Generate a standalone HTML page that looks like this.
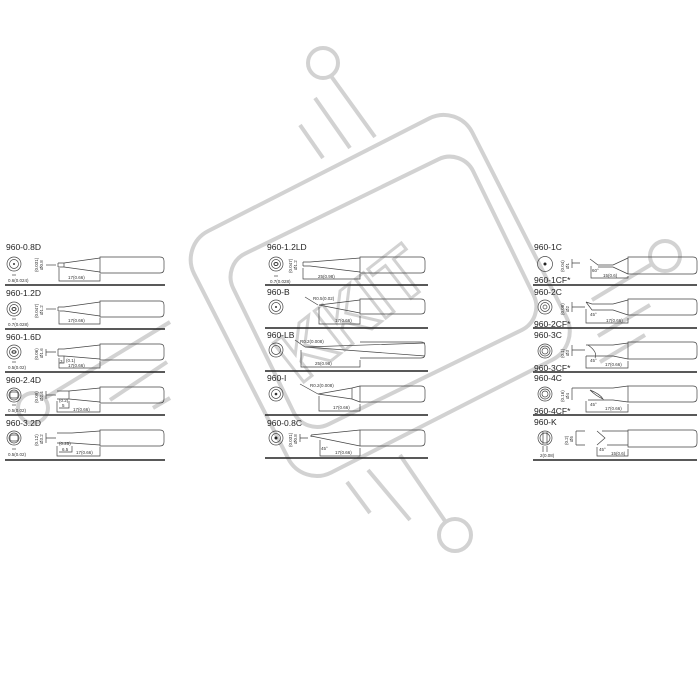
<!DOCTYPE html>
<html><head><meta charset="utf-8"><style>
html,body{margin:0;padding:0;background:#fff;}
svg{display:block;font-family:"Liberation Sans",sans-serif;}
.l{font-size:8.5px;fill:#222}
.s{font-size:4.5px;fill:#333}
.d{fill:none;stroke:#444;stroke-width:0.7}
.sep{stroke:#222;stroke-width:1.6}
.w{fill:none;stroke:#d2d2d2;stroke-width:4}
</style></head><body>
<svg width="700" height="700" viewBox="0 0 700 700">
<defs>
<path id="hL" d="M0 -8 H60 Q64 -8 64 -4 V4 Q64 8 60 8 H0 Z" class="d"/>
</defs>
<!-- watermark -->
<g>
<rect class="w" x="-156" y="-135" width="312" height="271" rx="32" transform="translate(380,295) rotate(-27)"/>
<rect class="w" x="-133" y="-95" width="267" height="190" rx="26" transform="translate(383,292) rotate(-26)"/>
<circle class="w" cx="323" cy="63" r="15"/>
<line class="w" x1="331" y1="76" x2="375" y2="137"/>
<line class="w" x1="315" y1="98" x2="350" y2="148"/>
<line class="w" x1="300" y1="125" x2="323" y2="158"/>
<circle class="w" cx="455" cy="535" r="16"/>
<line class="w" x1="400" y1="455" x2="445" y2="521"/>
<line class="w" x1="368" y1="470" x2="410" y2="520"/>
<line class="w" x1="347" y1="482" x2="370" y2="513"/>
<circle class="w" cx="33" cy="408" r="15"/>
<line class="w" x1="45" y1="398" x2="170" y2="322"/>
<line class="w" x1="110" y1="400" x2="167" y2="362"/>
<line class="w" x1="153" y1="408" x2="170" y2="398"/>
<circle class="w" cx="665" cy="256" r="15"/>
<line class="w" x1="652" y1="264" x2="592" y2="300"/>
<line class="w" x1="650" y1="305" x2="598" y2="336"/>
<line class="w" x1="645" y1="335" x2="600" y2="362"/>
<text x="0" y="0" font-size="72" font-weight="bold" fill="none" stroke="#d2d2d2" stroke-width="3" transform="translate(300,385) rotate(-38)">KKIT</text>
</g>

<!-- separators -->
<g class="sep">
<line x1="5" y1="285" x2="165" y2="285"/><line x1="5" y1="329" x2="165" y2="329"/><line x1="5" y1="372" x2="165" y2="372"/><line x1="5" y1="415" x2="165" y2="415"/><line x1="5" y1="460" x2="165" y2="460"/>
<line x1="265" y1="285" x2="428" y2="285"/><line x1="265" y1="328" x2="428" y2="328"/><line x1="265" y1="371" x2="428" y2="371"/><line x1="265" y1="415" x2="428" y2="415"/><line x1="265" y1="458" x2="428" y2="458"/>
<line x1="533" y1="285" x2="697" y2="285"/><line x1="533" y1="328" x2="697" y2="328"/><line x1="533" y1="372" x2="697" y2="372"/><line x1="533" y1="415" x2="697" y2="415"/><line x1="533" y1="460" x2="697" y2="460"/>
</g>

<!-- LEFT column -->
<g>
<text class="l" x="6" y="250">960-0.8D</text>
<circle class="d" cx="14" cy="264" r="7"/><circle class="d" cx="14" cy="264" r="4.5"/><circle cx="14" cy="264" r="1" fill="#333"/>
<text class="s" x="8" y="282">0.6(0.024)</text><line class="d" x1="12" y1="275" x2="16" y2="275"/>
<text class="s" transform="translate(38,272) rotate(-90)">(0.031)</text><text class="s" transform="translate(43,270) rotate(-90)">Ø0.8</text>
<line class="d" x1="46" y1="265" x2="56" y2="265"/>
<path class="d" d="M58 263 H64 L100 258 M58 267 H64 L100 272 M58 263 V267 M64 263 V267"/>
<use href="#hL" x="100" y="265"/>
<path class="d" d="M59 268 V281 H100 V274"/><text class="s" x="68" y="279">17(0.66)</text>

<text class="l" x="6" y="296">960-1.2D</text>
<circle class="d" cx="14" cy="309" r="7"/><circle class="d" cx="14" cy="309" r="4.5"/><ellipse cx="14" cy="309" rx="2" ry="1.5" fill="none" stroke="#333"/>
<text class="s" x="8" y="326">0.7(0.028)</text><line class="d" x1="12" y1="319" x2="16" y2="319"/>
<text class="s" transform="translate(38,318) rotate(-90)">(0.047)</text><text class="s" transform="translate(43,315) rotate(-90)">Ø1.2</text>
<line class="d" x1="46" y1="309" x2="56" y2="309"/>
<path class="d" d="M58 307 H64 L100 302 M58 311 H64 L100 316 M58 307 V311"/>
<use href="#hL" x="100" y="309"/>
<path class="d" d="M59 312 V324 H100 V318"/><text class="s" x="68" y="322">17(0.66)</text>

<text class="l" x="6" y="340">960-1.6D</text>
<circle class="d" cx="14" cy="352" r="7"/><circle class="d" cx="14" cy="352" r="4.5"/><ellipse cx="14" cy="352" rx="2" ry="1.2" fill="none" stroke="#333"/>
<text class="s" x="8" y="369">0.5(0.02)</text><line class="d" x1="12" y1="362" x2="16" y2="362"/>
<text class="s" transform="translate(38,360) rotate(-90)">(0.06)</text><text class="s" transform="translate(43,358) rotate(-90)">Ø1.6</text>
<path class="d" d="M46 349 V356 M46 352 H56"/>
<path class="d" d="M58 349 H64 L100 345 M58 356 H64 L100 359 M58 349 V356"/>
<use href="#hL" x="100" y="352"/>
<path class="d" d="M59 358 V368 H100 V361 M64 356 V363 H59"/><text class="s" x="66" y="362">(0.1)</text><text class="s" x="60" y="363">3</text><text class="s" x="68" y="367">17(0.66)</text>

<text class="l" x="6" y="383">960-2.4D</text>
<circle class="d" cx="14" cy="395" r="7"/><circle class="d" cx="14" cy="395" r="5"/><rect class="d" x="10" y="392" width="8" height="6" rx="2"/>
<text class="s" x="8" y="412">0.5(0.02)</text><line class="d" x1="12" y1="405" x2="16" y2="405"/>
<text class="s" transform="translate(38,403) rotate(-90)">(0.09)</text><text class="s" transform="translate(43,401) rotate(-90)">Ø2.4</text>
<path class="d" d="M46 391 V399 M46 395 H56"/>
<path class="d" d="M57 391 H69 L100 388 M57 399 H69 L100 402 M69 391 V399"/>
<use href="#hL" x="100" y="395"/>
<path class="d" d="M57 401 V412 H100 V404 M69 401 V408 H59"/><text class="s" x="59" y="402">(0.2)</text><text class="s" x="62" y="407">5</text><text class="s" x="73" y="411">17(0.66)</text>

<text class="l" x="6" y="426">960-3.2D</text>
<circle class="d" cx="14" cy="438" r="7"/><circle class="d" cx="14" cy="438" r="5"/><rect class="d" x="10" y="435" width="8" height="6" rx="2"/>
<text class="s" x="8" y="456">0.5(0.02)</text><line class="d" x1="12" y1="449" x2="16" y2="449"/>
<text class="s" transform="translate(38,446) rotate(-90)">(0.12)</text><text class="s" transform="translate(43,444) rotate(-90)">Ø3.2</text>
<path class="d" d="M46 433 V443 M46 438 H56"/>
<path class="d" d="M57 433 H72 L100 431 M57 443 H72 L100 445"/>
<use href="#hL" x="100" y="438"/>
<path class="d" d="M57 446 V456 H100 V447 M72 446 V452 H59"/><text class="s" x="59" y="445">(0.25)</text><text class="s" x="62" y="451">6.5</text><text class="s" x="76" y="454">17(0.66)</text>
</g>

<!-- MIDDLE column -->
<g>
<text class="l" x="267" y="250">960-1.2LD</text>
<circle class="d" cx="276" cy="264" r="7"/><circle class="d" cx="276" cy="264" r="4.5"/><ellipse cx="276" cy="264" rx="2" ry="1.5" fill="none" stroke="#333"/>
<text class="s" x="270" y="283">0.7(0.028)</text><line class="d" x1="274" y1="276" x2="278" y2="276"/>
<text class="s" transform="translate(292,273) rotate(-90)">(0.047)</text><text class="s" transform="translate(297,270) rotate(-90)">Ø1.2</text>
<path class="d" d="M303 262 H310 L360 258 M303 266 H310 L360 272 M303 262 V266"/>
<path class="d" d="M360 257 H421 Q425 257 425 261 V269 Q425 273 421 273 H360 Z"/>
<path class="d" d="M303 268 V279 H360 V274"/><text class="s" x="318" y="278">25(0.98)</text>

<text class="l" x="267" y="295">960-B</text>
<circle class="d" cx="276" cy="307" r="7"/><circle class="d" cx="276" cy="307" r="4.5"/><circle cx="276" cy="307" r="1" fill="#333"/>
<path class="d" d="M305 297 L318 305"/><text class="s" x="313" y="300">R0.5(0.02)</text>
<path class="d" d="M319 305 L360 300 M319 305 L360 313"/>
<path class="d" d="M360 299 H421 Q425 299 425 303 V310 Q425 314 421 314 H360 Z"/>
<path class="d" d="M319 307 V324 H360 V316"/><text class="s" x="335" y="322">17(0.66)</text>

<text class="l" x="267" y="338">960-LB</text>
<circle class="d" cx="276" cy="350" r="7"/><circle class="d" cx="276" cy="350" r="4.5"/>
<path class="d" d="M295 340 L305 347"/><text class="s" x="300" y="343">R0.2(0.008)</text>
<path class="d" d="M305 347 L425 343 M305 347 L425 356"/>
<path class="d" d="M360 342 H421 Q425 342 425 346 V354 Q425 358 421 358 H360"/>
<path class="d" d="M301 350 V367 H360 V360"/><text class="s" x="315" y="365">25(0.98)</text>

<text class="l" x="267" y="381">960-I</text>
<circle class="d" cx="276" cy="394" r="7"/><circle class="d" cx="276" cy="394" r="4.5"/><circle cx="276" cy="394" r="1.3" fill="#333"/>
<path class="d" d="M300 384 L318 394"/><text class="s" x="310" y="387">R0.2(0.008)</text>
<path class="d" d="M318 394 L352 388 L360 386 M318 394 L352 399 L360 402 M352 388 V399"/>
<path class="d" d="M360 386 H421 Q425 386 425 390 V398 Q425 402 421 402 H360 Z"/>
<path class="d" d="M319 396 V411 H360 V404"/><text class="s" x="333" y="409">17(0.66)</text>

<text class="l" x="267" y="426">960-0.8C</text>
<circle class="d" cx="276" cy="438" r="7"/><circle class="d" cx="276" cy="438" r="4.5"/><circle cx="276" cy="438" r="1.5" fill="#222"/>
<text class="s" transform="translate(292,447) rotate(-90)">(0.031)</text><text class="s" transform="translate(297,444) rotate(-90)">Ø0.8</text>
<path class="d" d="M300 434 V442 M300 438 H308"/>
<path class="d" d="M311 435 L360 430 M311 436 L360 446 M311 435 V437"/>
<path class="d" d="M360 430 H421 Q425 430 425 434 V442 Q425 446 421 446 H360 Z"/>
<path class="d" d="M320 440 V456 H360 V448"/><text class="s" x="321" y="450">45°</text><text class="s" x="335" y="454">17(0.66)</text>
</g>

<!-- RIGHT column -->
<g>
<text class="l" x="534" y="250">960-1C</text>
<circle class="d" cx="545" cy="264" r="7.5"/><circle cx="545" cy="264" r="1.5" fill="#222"/>
<text class="s" transform="translate(564,272) rotate(-90)">(0.04)</text><text class="s" transform="translate(569,269) rotate(-90)">Ø1</text>
<path class="d" d="M572 259 V268 M572 263 H580"/>
<path class="d" d="M590 259 L598 265 H613 L628 258 M598 267 H613 L628 274"/>
<path class="d" d="M628 257 H693 Q697 257 697 261 V270 Q697 274 693 274 H628 Z"/>
<path class="d" d="M591 266 V278 H628 V276"/><text class="s" x="592" y="272">60°</text><text class="s" x="603" y="277">15(0.6)</text>
<text class="l" x="534" y="283" font-size="7.5">960-1CF*</text>

<text class="l" x="534" y="295">960-2C</text>
<circle class="d" cx="545" cy="307" r="7"/><circle class="d" cx="545" cy="307" r="4.5"/><circle class="d" cx="545" cy="307" r="2"/>
<text class="s" transform="translate(564,315) rotate(-90)">(0.08)</text><text class="s" transform="translate(569,312) rotate(-90)">Ø2</text>
<path class="d" d="M572 302 V312 M572 307 H585"/>
<path class="d" d="M586 302 L592 304 H613 L628 300 M586 302 L592 310 H613 L628 315"/>
<path class="d" d="M628 299 H693 Q697 299 697 303 V311 Q697 315 693 315 H628 Z"/>
<path class="d" d="M586 309 V323 H628 V318"/><text class="s" x="590" y="316">45°</text><text class="s" x="606" y="322">17(0.66)</text>
<text class="l" x="534" y="327" font-size="7.5">960-2CF*</text>

<text class="l" x="534" y="338">960-3C</text>
<circle class="d" cx="545" cy="351" r="7"/><circle class="d" cx="545" cy="351" r="5"/><circle class="d" cx="545" cy="351" r="3"/>
<text class="s" transform="translate(564,358) rotate(-90)">(0.1)</text><text class="s" transform="translate(569,356) rotate(-90)">Ø3</text>
<path class="d" d="M572 345 V356 M572 350 H585"/>
<path class="d" d="M586 345 L592 345 H613 L628 343 M586 356 L600 356 H613 L628 359 M588 345 Q598 352 595 358"/>
<path class="d" d="M628 342 H693 Q697 342 697 346 V355 Q697 359 693 359 H628 Z"/>
<path class="d" d="M586 356 V368 H628 V361"/><text class="s" x="590" y="362">45°</text><text class="s" x="605" y="366">17(0.66)</text>
<text class="l" x="534" y="371" font-size="7.5">960-3CF*</text>

<text class="l" x="534" y="381">960-4C</text>
<circle class="d" cx="545" cy="394" r="7"/><circle class="d" cx="545" cy="394" r="5"/><circle class="d" cx="545" cy="394" r="3"/>
<text class="s" transform="translate(564,402) rotate(-90)">(0.16)</text><text class="s" transform="translate(569,399) rotate(-90)">Ø4</text>
<path class="d" d="M572 388 V400 M572 388 H588"/>
<path class="d" d="M588 388 H613 L628 386 M588 400 H613 L628 402 M590 390 Q600 394 603 399 Q596 396 590 390"/>
<path class="d" d="M628 386 H693 Q697 386 697 390 V398 Q697 402 693 402 H628 Z"/>
<path class="d" d="M586 401 V412 H628 V404"/><text class="s" x="590" y="406">45°</text><text class="s" x="605" y="410">17(0.66)</text>
<text class="l" x="534" y="414" font-size="7.5">960-4CF*</text>

<text class="l" x="534" y="425">960-K</text>
<circle class="d" cx="545" cy="438" r="7"/><circle class="d" cx="545" cy="438" r="5"/><path class="d" d="M543 432 V444 M547 432 V444"/>
<path class="d" d="M543 446 V452 M547 446 V452"/><text class="s" x="540" y="457">2(0.08)</text>
<text class="s" transform="translate(568,445) rotate(-90)">(0.2)</text><text class="s" transform="translate(573,442) rotate(-90)">Ø5</text>
<path class="d" d="M576 431 H585 M576 445 H585 M576 431 V445"/>
<path class="d" d="M597 431 L605 438 L597 445 M602 431 H628 M607 445 H628"/>
<path class="d" d="M628 430 H693 Q697 430 697 434 V443 Q697 447 693 447 H628 Z"/>
<path class="d" d="M597 447 V456 H628 V449"/><text class="s" x="599" y="451">45°</text><text class="s" x="611" y="455">15(0.6)</text>
</g>
</svg>
</body></html>
